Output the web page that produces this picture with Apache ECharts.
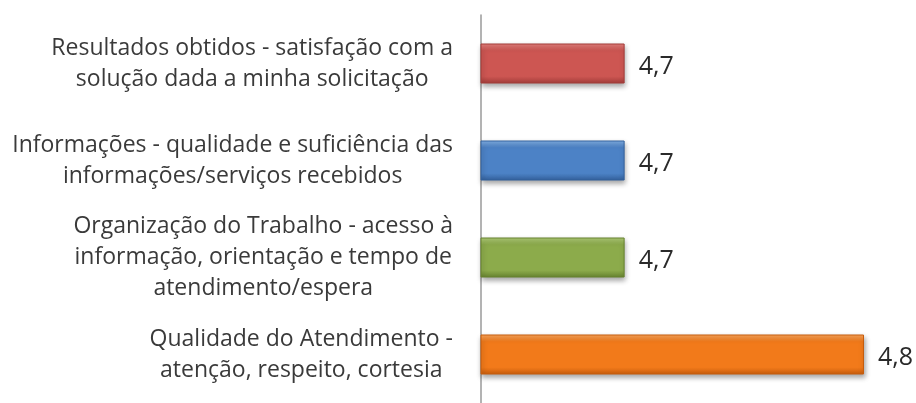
<!DOCTYPE html>
<html>
<head>
<meta charset="utf-8">
<script src="https://cdn.jsdelivr.net/npm/echarts@6/dist/echarts.min.js"></script>
<style>
  html, body { margin: 0; padding: 0; background: #fff; }
  #chart { width: 916px; height: 403px; }
</style>
</head>
<body>
<div id="chart"></div>
<script>
// Survey dimensions, top to bottom
const categories = [
  'Resultados obtidos - satisfação com a\nsolução dada a minha solicitação',
  'Informações - qualidade e suficiência das\ninformações/serviços recebidos',
  'Organização do Trabalho - acesso à\ninformação, orientação e tempo de\natendimento/espera',
  'Qualidade do Atendimento -\natenção, respeito, cortesia'
];
// Average score per dimension
const scores = [4.7, 4.7, 4.7, 4.8];
// Bar fill per dimension: [top, middle, bottom]
const barColors = [
  ['#E5817E', '#CD5652', '#A23C39'],
  ['#82B0E6', '#4C82C6', '#33609B'],
  ['#B0CC78', '#8CAB4B', '#66822F'],
  ['#FBA65C', '#F27A1A', '#C65C0C']
];

const chart = echarts.init(document.getElementById('chart'));

const fontFamily = '"Open Sans", Lato, sans-serif';

chart.setOption({
  animation: false,
  backgroundColor: '#ffffff',
  grid: { left: 481, top: 15, width: 383, height: 397, containLabel: false },
  xAxis: {
    type: 'value',
    min: 4.64,
    max: 4.8,
    show: false
  },
  yAxis: {
    type: 'category',
    inverse: true,
    data: categories,
    axisLine: { show: true, lineStyle: { color: '#9a9a9a', width: 1.5 } },
    axisTick: { show: false },
    axisLabel: {
      margin: 28,
      align: 'right',
      fontFamily: fontFamily,
      fontSize: 23,
      lineHeight: 31,
      color: '#3a3a3a',
      formatter: function (v) {
        return v.split('\n').map(function (l) { return '{c|' + l + '}'; }).join('\n');
      },
      rich: {
        c: { align: 'center', fontFamily: fontFamily, fontSize: 23, lineHeight: 31, color: '#3a3a3a' }
      }
    }
  },
  series: [{
    type: 'bar',
    barWidth: 40,
    data: scores.map(function (s, i) {
      const c = barColors[i];
      return {
        value: s,
        itemStyle: {
          color: new echarts.graphic.LinearGradient(0, 0, 0, 1, [
            { offset: 0, color: c[0] },
            { offset: 0.18, color: c[1] },
            { offset: 0.82, color: c[1] },
            { offset: 1, color: c[2] }
          ]),
          borderColor: c[2],
          borderWidth: 1,
          shadowColor: 'rgba(0,0,0,0.35)',
          shadowBlur: 5,
          shadowOffsetY: 3,
          shadowOffsetX: 1
        }
      };
    }),
    label: {
      show: true,
      position: 'right',
      distance: 14,
      offset: [0, 3],
      fontFamily: fontFamily,
      fontSize: 25,
      color: '#2a2a2a',
      formatter: function (p) { return p.value.toFixed(1).replace('.', ','); }
    }
  }]
});
</script>
</body>
</html>
